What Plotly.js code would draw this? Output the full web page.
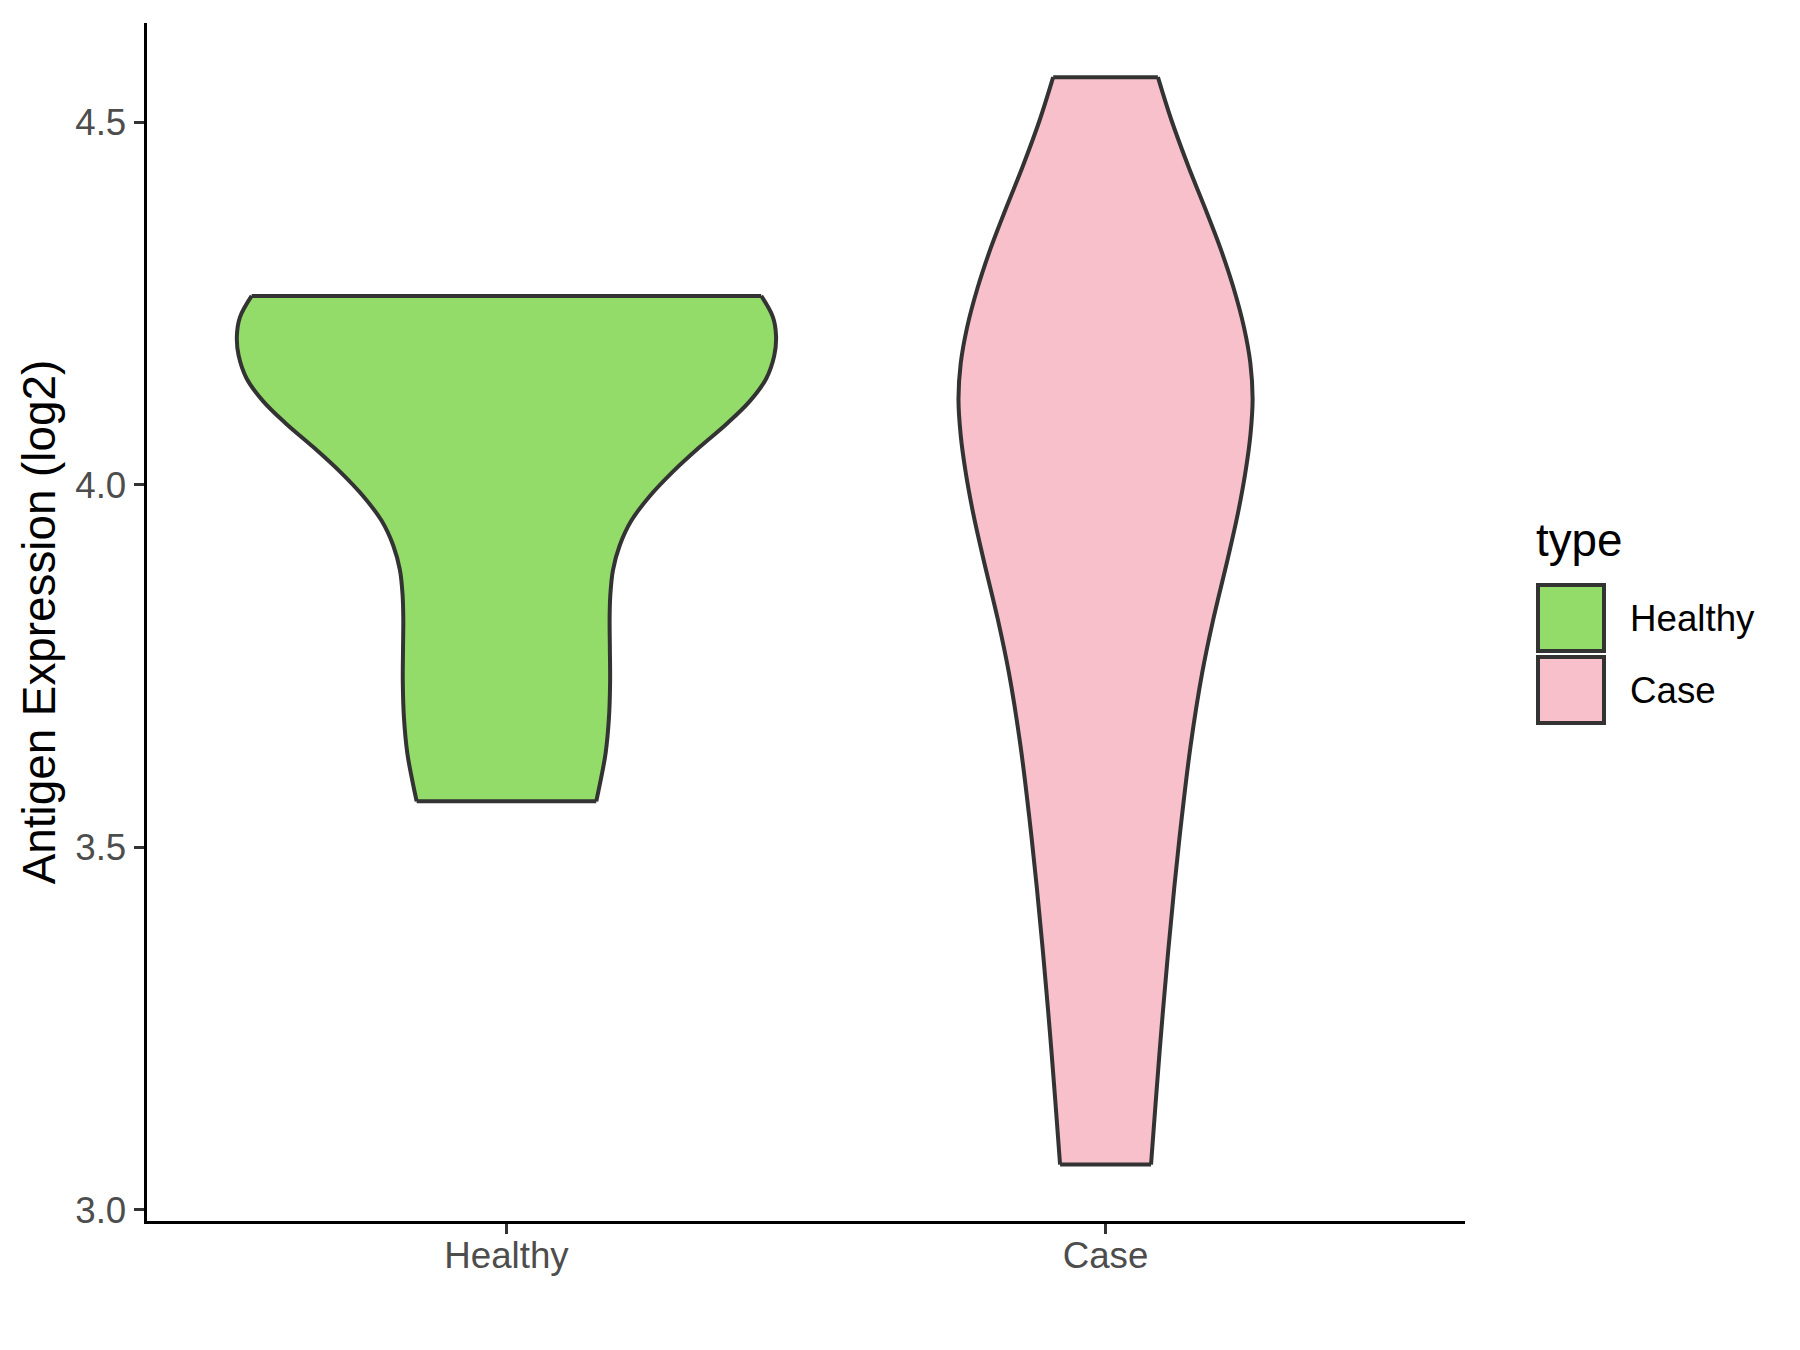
<!DOCTYPE html>
<html>
<head>
<meta charset="utf-8">
<script src="https://cdn.plot.ly/plotly-3.0.1.min.js"></script>
<style>html,body{margin:0;padding:0;background:#fff;}#chart{width:1800px;height:1350px;}</style>
</head>
<body>
<div id="chart"></div>
<script>
// Categories and their positions on the discrete x axis
const categories = ['Healthy', 'Case'];
const categoryPositions = [1, 2];
const fillColors = ['#93DC6A', '#F8C0CB'];

// Violin outline (density profile): y value and half-width (x units), bottom to top
const healthyY = [3.5634, 3.5964, 3.6303, 3.6788, 3.7272, 3.7758, 3.8145, 3.8484, 3.8824, 3.9163, 3.9503, 3.9842, 4.0182, 4.0521, 4.0836, 4.1151, 4.1467, 4.1781, 4.2048, 4.2314, 4.2606];
const healthyHalfWidth = [0.1499, 0.1582, 0.1656, 0.1711, 0.1730, 0.1726, 0.1722, 0.1734, 0.1778, 0.1890, 0.2083, 0.2390, 0.2779, 0.3225, 0.3669, 0.4059, 0.4337, 0.4470, 0.4500, 0.4448, 0.4253];

const caseY = [3.0624, 3.1486, 3.2472, 3.3457, 3.4443, 3.5430, 3.6415, 3.7401, 3.8140, 3.8969, 3.9609, 4.0201, 4.0694, 4.1187, 4.1679, 4.2172, 4.2714, 4.3257, 4.3849, 4.4391, 4.5032, 4.5623];
const caseHalfWidth = [0.0759, 0.0837, 0.0931, 0.1034, 0.1147, 0.1275, 0.1422, 0.1612, 0.1797, 0.2037, 0.2210, 0.2340, 0.2419, 0.2455, 0.2417, 0.2311, 0.2137, 0.1920, 0.1645, 0.1383, 0.1099, 0.0874];

// Tick labels
const yTickVals = [3.0, 3.5, 4.0, 4.5];
const yTickText = ['3.0', '3.5', '4.0', '4.5'];

const profiles = [
  {y: healthyY, hw: healthyHalfWidth},
  {y: caseY, hw: caseHalfWidth}
];

const outline = '#333333';
const lw = 4;
const fontFam = 'Liberation Sans, Arial, sans-serif';
const traces = [];

profiles.forEach((p, i) => {
  const c = categoryPositions[i];
  const left = p.hw.map(h => c - h);
  const right = p.hw.map(h => c + h);
  traces.push({x: left, y: p.y, type: 'scatter', mode: 'lines',
    line: {shape: 'spline', smoothing: 1, simplify: false, width: 0, color: 'rgba(0,0,0,0)'},
    hoverinfo: 'skip', showlegend: false});
  traces.push({x: right, y: p.y, type: 'scatter', mode: 'lines', fill: 'tonextx',
    fillcolor: fillColors[i],
    line: {shape: 'spline', smoothing: 1, simplify: false, width: 0, color: 'rgba(0,0,0,0)'},
    name: categories[i], showlegend: false});
});

profiles.forEach((p, i) => {
  const c = categoryPositions[i];
  const n = p.y.length - 1;
  const left = p.hw.map(h => c - h);
  const right = p.hw.map(h => c + h);
  traces.push({x: left, y: p.y, type: 'scatter', mode: 'lines',
    line: {shape: 'spline', smoothing: 1, simplify: false, width: lw, color: outline}, hoverinfo: 'skip', showlegend: false});
  traces.push({x: right, y: p.y, type: 'scatter', mode: 'lines',
    line: {shape: 'spline', smoothing: 1, simplify: false, width: lw, color: outline}, hoverinfo: 'skip', showlegend: false});
  traces.push({x: [left[0], right[0], null, left[n], right[n]],
    y: [p.y[0], p.y[0], null, p.y[n], p.y[n]], type: 'scatter', mode: 'lines',
    line: {width: lw, color: outline}, hoverinfo: 'skip', showlegend: false});
});

// Manual legend (ggplot-style key boxes)
const shapes = [];
const annotations = [];
const keyX0 = 1538, keySize = 66, keyY0 = 585;
categories.forEach((cat, i) => {
  const y0 = keyY0 + i * (keySize + 6);
  shapes.push({type: 'rect', xref: 'paper', yref: 'paper',
    x0: (keyX0 - 147) / 1318, x1: (keyX0 + keySize - 147) / 1318,
    y0: 1 - (y0 - 23) / 1198, y1: 1 - (y0 + keySize - 23) / 1198,
    fillcolor: fillColors[i], line: {color: outline, width: 4}, layer: 'above'});
  annotations.push({xref: 'paper', yref: 'paper', x: (1628 - 147) / 1318, y: 1 - (y0 + keySize / 2 - 23) / 1198,
    xanchor: 'left', yanchor: 'middle', text: cat, showarrow: false,
    font: {family: fontFam, size: 36.7, color: '#000000'}});
});
annotations.push({xref: 'paper', yref: 'paper', x: (1534 - 147) / 1318, y: 1 - (540 - 23) / 1198,
  xanchor: 'left', yanchor: 'middle', text: 'type', showarrow: false,
  font: {family: fontFam, size: 45.8, color: '#000000'}});

const layout = {
  width: 1800, height: 1350,
  margin: {l: 147, r: 335, t: 23, b: 129},
  paper_bgcolor: '#ffffff', plot_bgcolor: '#ffffff',
  showlegend: false,
  font: {family: fontFam, color: '#000000'},
  xaxis: {
    range: [0.4, 2.6], tickmode: 'array', tickvals: categoryPositions, ticktext: categories,
    showgrid: false, zeroline: false, showline: true, linecolor: '#000000', linewidth: 3.4,
    ticks: 'outside', ticklen: 10, tickwidth: 3.4, tickcolor: '#333333',
    ticklabelstandoff: -10,
    tickfont: {size: 36.7, color: '#4D4D4D', family: fontFam},
    fixedrange: true
  },
  yaxis: {
    range: [2.9845, 4.637], tickmode: 'array', tickvals: yTickVals, ticktext: yTickText,
    showgrid: false, zeroline: false, showline: true, linecolor: '#000000', linewidth: 3.4,
    ticks: 'outside', ticklen: 10, tickwidth: 3.4, tickcolor: '#333333',
    tickfont: {size: 36.7, color: '#4D4D4D', family: fontFam},
    title: {text: 'Antigen Expression (log2)', standoff: 6,
      font: {size: 45.8, color: '#000000', family: fontFam}},
    fixedrange: true
  },
  shapes: shapes,
  annotations: annotations
};

Plotly.newPlot('chart', traces, layout, {displayModeBar: false, staticPlot: true});
</script>
</body>
</html>
